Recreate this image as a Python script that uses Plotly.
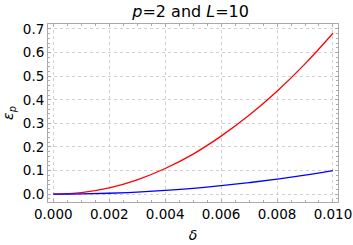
import plotly.graph_objects as go

delta = [0.0, 0.001, 0.002, 0.003, 0.004, 0.005, 0.006, 0.007, 0.008, 0.009, 0.010]
eps_red = [0.0, 0.007, 0.027, 0.061, 0.109, 0.170, 0.246, 0.334, 0.436, 0.552, 0.682]
eps_blue = [0.0, 0.001, 0.004, 0.009, 0.016, 0.025, 0.036, 0.049, 0.064, 0.081, 0.100]

x_ticks = [0.0, 0.002, 0.004, 0.006, 0.008, 0.010]
x_labels = ["0.000", "0.002", "0.004", "0.006", "0.008", "0.010"]
y_ticks = [0.0, 0.1, 0.2, 0.3, 0.4, 0.5, 0.6, 0.7]
y_labels = ["0.0", "0.1", "0.2", "0.3", "0.4", "0.5", "0.6", "0.7"]

FONT = "DejaVu Sans"

fig = go.Figure()
fig.add_trace(go.Scatter(x=delta, y=eps_red, mode="lines", line=dict(color="red", width=1.3, shape="spline")))
fig.add_trace(go.Scatter(x=delta, y=eps_blue, mode="lines", line=dict(color="blue", width=1.3, shape="spline")))

axis_common = dict(
    showline=True, linecolor="#aaaaaa", linewidth=1, mirror="allticks",
    ticks="inside", ticklen=3, tickcolor="#aaaaaa", tickwidth=1,
    showgrid=True, gridcolor="#d0d0d0", griddash="dot", gridwidth=1,
    zeroline=False, automargin=False,
    tickfont=dict(family=FONT, size=13.5, color="black"),
)

fig.update_layout(
    width=353, height=245,
    margin=dict(l=48, r=15, t=24, b=43),
    paper_bgcolor="white", plot_bgcolor="white",
    showlegend=False,
    title=dict(text="<i>p</i>=2 and <i>L</i>=10", x=0.54, xanchor="center", y=0.955, yanchor="middle",
               font=dict(family=FONT, size=16, color="black")),
    xaxis=dict(range=[-0.00019, 0.01018], tickvals=x_ticks, ticktext=x_labels,
               minor=dict(dtick=0.0005, ticks="inside", ticklen=2, tickcolor="#aaaaaa", showgrid=False),
               title=dict(text="<i>δ</i>", font=dict(family=FONT, size=14, color="black"), standoff=8),
               **axis_common),
    yaxis=dict(range=[-0.033, 0.721], tickvals=y_ticks, ticktext=y_labels,
               minor=dict(dtick=0.02, ticks="inside", ticklen=2, tickcolor="#aaaaaa", showgrid=False),
               title=dict(text="<i>ε<sub>p</sub></i>", font=dict(family=FONT, size=14, color="black"), standoff=10),
               **axis_common),
)

# remove the browser's default 8px body margin so the figure fills the window exactly
fig.write_html("out.html", config={"displayModeBar": False},
               post_script="document.body.style.margin='0px';")
